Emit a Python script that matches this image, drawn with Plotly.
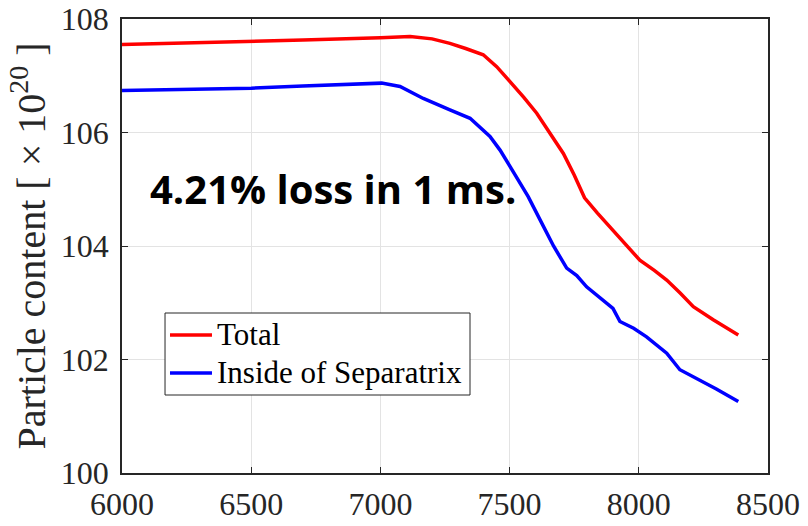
import plotly.graph_objects as go

# Data
total_x = [6000, 6500, 6700, 7000, 7115, 7200, 7269, 7330, 7398, 7450, 7502, 7555, 7605, 7660,
           7708, 7750, 7790, 7840, 7876, 7940, 8004, 8060, 8108, 8160, 8211, 8288, 8385]
total_y = [107.55, 107.60, 107.63, 107.67, 107.69, 107.65, 107.57, 107.48, 107.37, 107.16, 106.90, 106.62, 106.34, 105.97,
           105.63, 105.25, 104.85, 104.58, 104.40, 104.08, 103.75, 103.57, 103.40, 103.17, 102.93, 102.70, 102.43]

sep_x = [6000, 6500, 6700, 7005, 7076, 7166, 7269, 7347, 7424, 7463, 7502, 7527, 7572, 7618, 7670,
         7721, 7760, 7798, 7876, 7900, 7927, 7980, 8030, 8108, 8159, 8237, 8300, 8385]
sep_y = [106.74, 106.78, 106.82, 106.87, 106.81, 106.60, 106.40, 106.25, 105.93, 105.69, 105.40, 105.22, 104.87, 104.46, 104.00,
         103.61, 103.48, 103.28, 102.99, 102.90, 102.67, 102.55, 102.40, 102.11, 101.82, 101.64, 101.48, 101.26]

series_names = ["Total", "Inside of Separatrix"]
series_colors = ["#ff0000", "#0000ff"]

x_ticks = [6000, 6500, 7000, 7500, 8000, 8500]
y_ticks = [100, 102, 104, 106, 108]

serif = "Liberation Serif, Times New Roman, serif"

fig = go.Figure()
fig.add_trace(go.Scatter(x=total_x, y=total_y, mode="lines", name=series_names[0],
                         line=dict(color=series_colors[0], width=3.5)))
fig.add_trace(go.Scatter(x=sep_x, y=sep_y, mode="lines", name=series_names[1],
                         line=dict(color=series_colors[1], width=3.5)))

fig.add_annotation(x=0.04, y=0.626, xref="paper", yref="paper", xanchor="left", yanchor="middle",
                   text="<b>4.21% loss in 1 ms.</b>", showarrow=False,
                   font=dict(family="Open Sans", size=40, color="black"))

# Legend box (MATLAB-style, compact)
fig.add_shape(type="rect", xref="paper", yref="paper", x0=0.0666, x1=0.5387, y0=0.1718, y1=0.3524,
              line=dict(color="#262626", width=1), fillcolor="white", layer="above")
legend_rows_y = [0.3040, 0.2203]
for name, color, ly in zip(series_names, series_colors, legend_rows_y):
    fig.add_shape(type="line", xref="paper", yref="paper", x0=0.0743, x1=0.1393, y0=ly, y1=ly,
                  line=dict(color=color, width=3.5), layer="above")
    fig.add_annotation(x=0.1440, y=ly, xref="paper", yref="paper", xanchor="left", yanchor="middle",
                       text=name, showarrow=False,
                       font=dict(family=serif, size=31, color="black"))

axis_common = dict(showline=True, linecolor="#262626", linewidth=1.5, mirror="ticks",
                   ticks="inside", ticklen=6, tickcolor="#262626", automargin=False,
                   showgrid=True, gridcolor="#e3e3e3", gridwidth=1, zeroline=False,
                   tickfont=dict(family=serif, size=32, color="#262626"))

fig.update_layout(
    width=808, height=526,
    margin=dict(l=122, r=40, t=19, b=53),
    paper_bgcolor="white", plot_bgcolor="white",
    xaxis=dict(range=[6000, 8500], tickvals=x_ticks, ticktext=[str(v) for v in x_ticks],
               ticklabelstandoff=2, **axis_common),
    yaxis=dict(range=[100, 108], tickvals=y_ticks, ticktext=[str(v) for v in y_ticks],
               ticklabelstandoff=5,
               title=dict(text="Particle content [ × 10<sup>20</sup> ]",
                          font=dict(family=serif, size=40, color="#262626"), standoff=3),
               **axis_common),
    showlegend=False,
)

fig.write_html("out.html")
